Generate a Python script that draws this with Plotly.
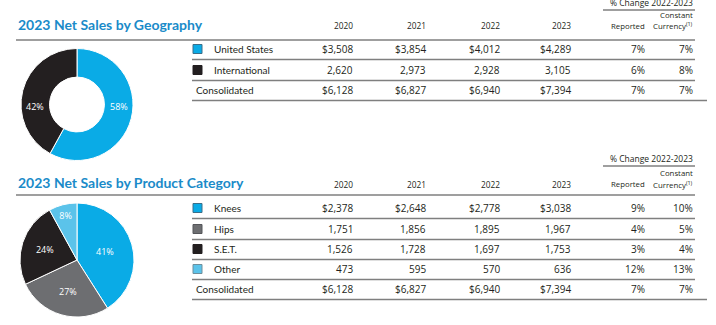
import plotly.graph_objects as go

# ---- data -------------------------------------------------------------
years = ["2020", "2021", "2022", "2023"]

geo_regions = ["United States", "International"]
geo_us = [3508, 3854, 4012, 4289]
geo_intl = [2620, 2973, 2928, 3105]
geo_total = [6128, 6827, 6940, 7394]
geo_reported = [7, 6, 7]        # US, International, Consolidated
geo_constant = [7, 8, 7]
geo_share = [58, 42]            # 2023 share of net sales, %

prod_categories = ["Knees", "Hips", "S.E.T.", "Other"]
prod_knees = [2378, 2648, 2778, 3038]
prod_hips = [1751, 1856, 1895, 1967]
prod_set = [1526, 1728, 1697, 1753]
prod_other = [473, 595, 570, 636]
prod_total = [6128, 6827, 6940, 7394]
prod_reported = [9, 4, 3, 12, 7]
prod_constant = [10, 5, 4, 13, 7]
prod_share = [41, 27, 24, 8]

# ---- styling ----------------------------------------------------------
W, H = 716, 325
TITLE_BLUE = "#1a8bc9"
BLUE = "#0aabe6"
BLACK = "#231f20"
GRAY = "#6d6e71"
LIGHT_BLUE = "#5bc3ea"
RULE = "#7f7f7f"
TXT = "#231f20"
ROW_FONT = "Lato"
NUM_FONT = "Open Sans"

geo_colors = [BLUE, BLACK]
prod_colors = [BLUE, GRAY, BLACK, LIGHT_BLUE]

# column right edges (pixels)
COL_X = [355, 428, 502, 573, 647, 695]
LABEL_X = 212
SWATCH_X = 193
ROW_LEFT = 192


def px(x):
    return x / W


def py(y):
    return 1 - y / H


fig = go.Figure()
annotations = []
shapes = []


def text(x, y, s, size=10, anchor="right", font=NUM_FONT, color=TXT, weight=None):
    f = dict(family=font, size=size, color=color)
    if weight:
        f["weight"] = weight
    annotations.append(dict(
        x=px(x), y=py(y), xref="paper", yref="paper", text=s,
        showarrow=False, xanchor=anchor, yanchor="middle", font=f,
    ))


def hline(x0, x1, y, width=1.0, color=RULE):
    shapes.append(dict(
        type="line", xref="paper", yref="paper",
        x0=px(x0), x1=px(x1), y0=py(y), y1=py(y),
        line=dict(color=color, width=width),
    ))


def swatch(y, color, border):
    shapes.append(dict(
        type="rect", xref="paper", yref="paper",
        x0=px(SWATCH_X), x1=px(SWATCH_X + 9), y0=py(y + 4.5), y1=py(y - 4.5),
        fillcolor=color, line=dict(color=border, width=1),
    ))


def money(v, dollar):
    return ("$" if dollar else "") + f"{v:,}"


def section(title, title_y, change_y, header_y, rule_y, rows_y,
            labels, series, colors, borders, total, reported, constant):
    text(16, title_y, title, size=14, anchor="left", font="Lato",
         color=TITLE_BLUE, weight="bold")
    hline(16, 695, rule_y, width=1.6)

    # header
    text(695, change_y, "% Change 2022-2023", size=8.5)
    hline(603, 695, change_y + 8, width=1.4)
    text(695, header_y - 11, "Constant", size=7.8)
    text(695, header_y, "Currency<sup>(1)</sup>", size=7.8)
    text(647, header_y, "Reported", size=7.8)
    for i, yr in enumerate(years):
        text(COL_X[i], header_y, yr, size=8.3)

    # body rows
    n = len(labels)
    all_series = series + [total]
    for r in range(n + 1):
        y = rows_y[r]
        vals = all_series[r]
        dollar = (r == 0) or (r == n)
        if r < n:
            swatch(y, colors[r], borders[r])
            text(LABEL_X, y, labels[r], size=10, anchor="left", font=ROW_FONT)
        else:
            text(194, y, "Consolidated", size=10, anchor="left", font=ROW_FONT)
        for c, v in enumerate(vals):
            text(COL_X[c], y, money(v, dollar), size=10)
        text(COL_X[4], y, f"{reported[r]}%", size=10)
        text(COL_X[5], y, f"{constant[r]}%", size=10)
        # rule under the row
        if r < n:
            hline(ROW_LEFT, 695, y + 10.5, width=1.3)
        else:
            hline(ROW_LEFT, 707, y + 10.5, width=1.6)


# ---- geography --------------------------------------------------------
section(
    "2023 Net Sales by Geography", 25, 2, 26, 40, [49, 70, 90],
    geo_regions, [geo_us, geo_intl], geo_colors, ["#3a6f8a", BLACK],
    geo_total, geo_reported, geo_constant,
)

DONUT_X = (21, 133)
DONUT_Y = (48, 161)
DONUT_HOLE = 0.49

fig.add_trace(go.Pie(
    labels=geo_regions, values=geo_share, hole=DONUT_HOLE, sort=False,
    direction="clockwise", rotation=0,
    marker=dict(colors=geo_colors, line=dict(color="white", width=1)),
    textinfo="none",
    domain=dict(x=[px(DONUT_X[0]), px(DONUT_X[1])],
                y=[py(DONUT_Y[1]), py(DONUT_Y[0])]),
    showlegend=False, hoverinfo="label+percent",
))

# share labels sit level with the ring's centre, midway through the ring:
# the first slice on the right, the second on the left
cx = (DONUT_X[0] + DONUT_X[1]) / 2
cy = (DONUT_Y[0] + DONUT_Y[1]) / 2 + 2
r_out = (DONUT_X[1] - DONUT_X[0]) / 2
r_mid = r_out * (1 + DONUT_HOLE) / 2
for side, share in zip((1, -1), geo_share):
    annotations.append(dict(
        x=px(cx + side * r_mid), y=py(cy), xref="paper", yref="paper",
        text=f"{share}%", showarrow=False, xanchor="center", yanchor="middle",
        font=dict(family=NUM_FONT, size=9, color="white"),
    ))

# ---- product category -------------------------------------------------
section(
    "2023 Net Sales by Product Category", 183, 158, 184, 195,
    [208, 229, 249, 269, 289],
    prod_categories, [prod_knees, prod_hips, prod_set, prod_other],
    prod_colors, ["#3a6f8a", "#55565a", BLACK, "#6f8f9c"],
    prod_total, prod_reported, prod_constant,
)

fig.add_trace(go.Pie(
    labels=prod_categories, values=prod_share, sort=False,
    direction="clockwise", rotation=0,
    marker=dict(colors=prod_colors, line=dict(color="white", width=1)),
    textinfo="percent", texttemplate="%{value}%", textposition="inside",
    insidetextorientation="horizontal",
    textfont=dict(family=NUM_FONT, size=9, color="white"),
    domain=dict(x=[px(20), px(134)], y=[py(317), py(203)]),
    showlegend=False, hoverinfo="label+percent",
))

fig.update_layout(
    width=W, height=H,
    margin=dict(l=0, r=0, t=0, b=0),
    paper_bgcolor="white", plot_bgcolor="white",
    annotations=annotations, shapes=shapes,
)

fig.write_html("out.html")
